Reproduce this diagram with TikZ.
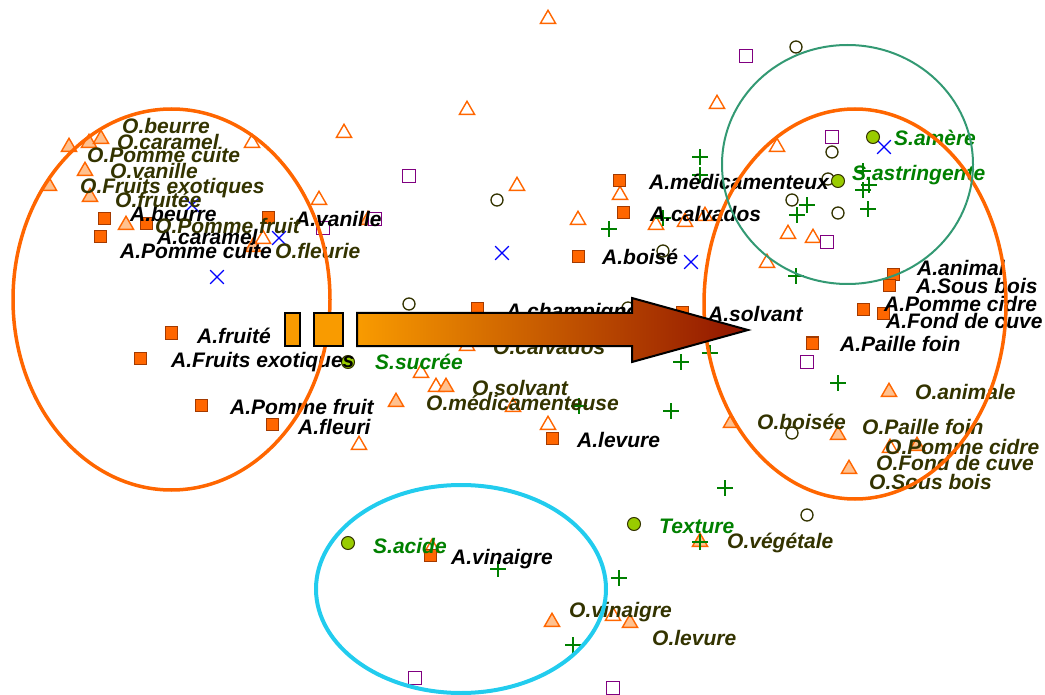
\documentclass[tikz,border=0pt]{standalone}
\usepackage{fontspec}
\setmainfont{Liberation Sans}
\usetikzlibrary{shapes.geometric,shapes.misc}
\definecolor{mkOrange}{HTML}{FF6600}
\definecolor{mkBrown}{HTML}{A33A00}
\definecolor{mkPeach}{HTML}{FFC18F}
\definecolor{mkOlive}{HTML}{333300}
\definecolor{mkLime}{HTML}{99CC00}
\definecolor{mkLeaf}{HTML}{008000}
\definecolor{mkPurple}{HTML}{800080}
\definecolor{mkSea}{HTML}{339973}
\definecolor{mkSky}{HTML}{22CCEE}
\definecolor{mkAmber}{HTML}{F99B00}
\definecolor{mkRust}{HTML}{901400}
\tikzset{
  asq/.style={rectangle, draw=mkBrown, fill=mkOrange, line width=1pt, minimum size=12pt, inner sep=0pt},
  otri/.style={regular polygon, regular polygon sides=3, draw=mkOrange, fill=white, line width=1.4pt, minimum size=17.5pt, inner sep=0pt},
  ltri/.style={otri, fill=mkPeach},
  ocirc/.style={circle, draw=mkOlive, line width=1.3pt, minimum size=12pt, inner sep=0pt},
  scirc/.style={circle, draw=mkOlive, fill=mkLime, line width=1pt, minimum size=13pt, inner sep=0pt},
  gplus/.style={cross out, draw=mkLeaf, rotate=45, line width=1.2pt, minimum size=9.5pt, inner sep=0pt},
  bx/.style={cross out, draw=blue, line width=1.2pt, minimum size=12.5pt, inner sep=0pt},
  psq/.style={rectangle, draw=mkPurple, fill=white, line width=1.4pt, minimum size=13pt, inner sep=0pt},
  lbl/.style={anchor=base west, inner sep=0pt, font=\fontsize{21}{21}\selectfont\bfseries\itshape},
  alb/.style={lbl, text=black},
  olb/.style={lbl, text=mkOlive},
  slb/.style={lbl, text=mkLeaf},
  zone/.style={line width=3.5pt},
  block/.style={draw=black, line width=2pt, line join=miter}
}
\begin{document}
\begin{tikzpicture}[x=1pt, y=-1pt]
  \useasboundingbox (0,0) rectangle (1045,695);
  % markers
  \foreach \x/\y [count=\i] in {252/143, 344/133, 319/200, 263/239, 467/110, 548/19, 517/186,
      620/195, 578/220, 656/225, 685/222, 705/216, 467/346, 421/373, 436/387, 513/407,
      548/425, 359/445, 717/104, 777/147, 788/234, 813/238, 767/263, 432/548, 613/616, 890/448}
    \node[otri] (ot\i) at (\x,\y) {};
  \foreach \x/\y [count=\i] in {69/147, 89/143, 101/139, 85/171, 49/186, 90/197, 126/225,
      253/247, 368/220, 446/387, 396/402, 731/423, 838/435, 889/392, 849/469, 917/446,
      700/542, 552/622, 630/623}
    \node[ltri] (lt\i) at (\x,\y) {};
  \foreach \x/\y [count=\i] in {409/304, 497/200, 663/251, 628/308, 796/47, 832/152, 828/179,
      792/200, 838/213, 792/433, 807/515}
    \node[ocirc] (oc\i) at (\x,\y) {};
  \foreach \x/\y [count=\i] in {323/228, 375/219, 409/176, 746/56, 832/137, 827/242, 807/362,
      415/678, 613/688}
    \node[psq] (ps\i) at (\x,\y) {};
  \foreach \x/\y [count=\i] in {192/205, 279/238, 217/277, 502/253, 691/262, 884/147}
    \node[bx] (bx\i) at (\x,\y) {};
  \foreach \x/\y [count=\i] in {609/229, 663/218, 700/157, 700/175, 863/171, 869/185, 863/190,
      868/209, 807/205, 797/215, 796/276, 681/362, 710/353, 579/406, 671/411, 838/383,
      725/488, 700/542, 498/569, 619/578, 573/645}
    \node[gplus] (gp\i) at (\x,\y) {};
  \foreach \x/\y [count=\i] in {104/219, 100/237, 146/224, 268/218, 171/333, 140/358, 201/405,
      272/424, 477/309, 552/438, 578/257, 619/181, 623/213, 682/313, 893/275, 889/286,
      863/310, 883/314, 812/343, 430/555}
    \node[asq] (aq\i) at (\x,\y) {};
  \foreach \x/\y [count=\i] in {348/362, 873/137, 838/181, 634/524, 348/543}
    \node[scirc] (sc\i) at (\x,\y) {};
  % labels
  \foreach \t/\x/\y [count=\i] in {A.beurre/130/222, A.caramel/157/245, A.Pomme cuite/120/259,
      A.vanille/295/227, A.fruité/197/343, A.Fruits exotiques/171/367, A.Pomme fruit/230/414,
      A.fleuri/298/434, A.champignon/506/319, A.médicamenteux/649/190, A.calvados/650/222,
      A.boisé/602/265, A.levure/577/447, A.solvant/708/322, A.animal/917/276,
      A.Sous bois/916/294, A.Pomme cidre/884/312, A.Fond de cuve/886/328,
      A.Paille foin/840/352, A.vinaigre/451/564}
    \node[alb] (al\i) at (\x,\y) {\t};
  \foreach \t/\x/\y [count=\i] in {O.beurre/122/134, O.caramel/117/150, O.Pomme cuite/87/163,
      O.vanille/110/179, O.Fruits exotiques/80/194, O.fruitée/115/208, O.Pomme fruit/155/234,
      O.fleurie/275/259, O.calvados/493/354, O.solvant/472/395, O.médicamenteuse/426/410,
      O.animale/915/399, O.boisée/757/429, O.Paille foin/862/434, O.Pomme cidre/885/454,
      O.Fond de cuve/876/470, O.Sous bois/869/489, O.végétale/727/548, O.vinaigre/569/617,
      O.levure/652/645}
    \node[olb] (ol\i) at (\x,\y) {\t};
  \foreach \t/\x/\y [count=\i] in {S.sucrée/375/370, S.amère/894/146, S.astringente/852/181,
      Texture/659/533, S.acide/373/553}
    \node[slb] (sl\i) at (\x,\y) {\t};
  % groups
  \draw[zone, mkOrange] (171.5,299.5) ellipse [x radius=158.5pt, y radius=190.5pt];
  \draw[zone, mkOrange] (855,304) ellipse [x radius=151pt, y radius=195pt];
  \draw[line width=2pt, mkSea] (847.5,164.5) ellipse [x radius=125.5pt, y radius=119.5pt];
  \draw[line width=4pt, mkSky] (461,589) ellipse [x radius=145pt, y radius=104pt];
  % arrow
  \filldraw[block, fill=mkAmber] (285,313) rectangle (300,346);
  \filldraw[block, fill=mkAmber] (314,313) rectangle (343,346);
  \shadedraw[block, left color=mkAmber, right color=mkRust]
    (357,313) -- (632,313) -- (632,298) -- (748,330) -- (632,362) -- (632,346) -- (357,346) -- cycle;
\end{tikzpicture}
\end{document}
